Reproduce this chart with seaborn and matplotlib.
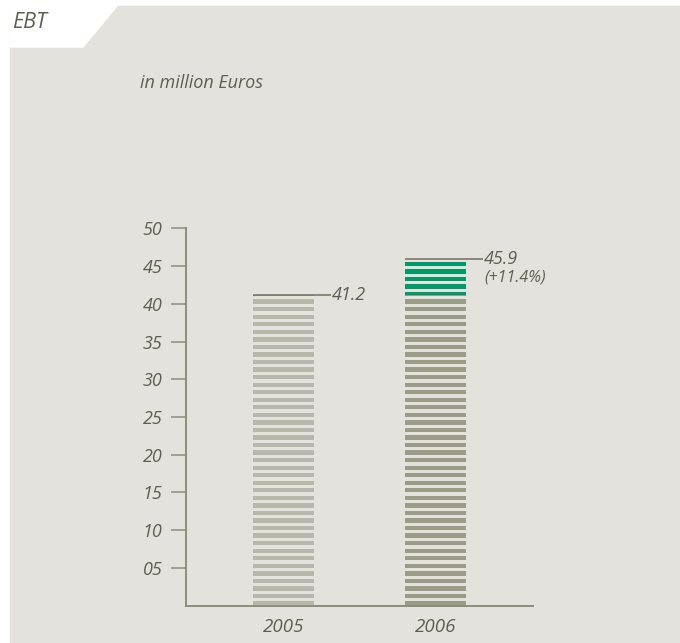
import numpy as np
import pandas as pd
import matplotlib
matplotlib.use("Agg")
import matplotlib.pyplot as plt
from matplotlib.patches import Polygon
import seaborn as sns

# EBT in million Euros
years = ["2005", "2006"]
ebt = [41.2, 45.9]
change_label = "(+11.4%)"
y_ticks = [5, 10, 15, 20, 25, 30, 35, 40, 45, 50]
y_tick_labels = ["05", "10", "15", "20", "25", "30", "35", "40", "45", "50"]

BG = "#e3e2dc"
TEXT = "#5f5f50"
AXIS = "#8d8d7b"
LIGHT = "#b8b8aa"
DARK = "#9b9b88"
GREEN = "#00996a"

sns.set_theme(style="white")
plt.rcParams["font.family"] = ["Open Sans", "DejaVu Sans"]

fig = plt.figure(figsize=(6.8, 6.43), dpi=100)
fig.patch.set_facecolor("white")

# panel background and title tab
fig.patches.append(plt.Rectangle((10 / 680, 0), 1, 1 - 6 / 643,
                                 transform=fig.transFigure, color=BG, zorder=-2))
tab = Polygon([(10 / 680, 1 - 6 / 643), (117 / 680, 1 - 6 / 643),
               (83 / 680, 1 - 47 / 643), (10 / 680, 1 - 47 / 643)],
              closed=True, transform=fig.transFigure, color="white", zorder=-1)
fig.patches.append(tab)
fig.text(12 / 680, 1 - 22 / 643, "EBT", fontsize=15.5, style="italic",
         color=TEXT, va="center", ha="left")
fig.text(140 / 680, 1 - 83 / 643, "in million Euros", fontsize=13,
         style="italic", color=TEXT, va="center", ha="left")

ax = fig.add_axes([186 / 680, 37.3 / 643, (533 - 186) / 680, (605.7 - 228.3) / 643])
ax.set_zorder(2)
ax.set_facecolor(BG)

df = pd.DataFrame({"year": years, "ebt": ebt})
width = 0.40

# full bars: light grey for the prior year, green for the current one
sns.barplot(data=df, x="year", y="ebt", hue="year",
            palette=[LIGHT, GREEN], width=width, legend=False,
            ax=ax, saturation=1, linewidth=0, zorder=1)
# prior-year level inside the current bar in grey
base = pd.DataFrame({"year": years, "ebt": [np.nan, ebt[0]]})
sns.barplot(data=base, x="year", y="ebt", color=DARK, width=width,
            ax=ax, saturation=1, linewidth=0, zorder=1.1)

# horizontal gaps turning the bars into stripes, one per unit
for k in range(int(np.ceil(max(ebt))) + 1):
    ax.axhspan(k + 0.57, k + 1.0, color=BG, lw=0, zorder=1.5)

ax.set_xlim(-0.641, 1.641)
ax.set_ylim(0, 50)

# value leaders and labels
for i, v in enumerate(ebt):
    ax.plot([i - width / 2, i + width / 2 + 0.11], [v, v], color="#707060",
            lw=1.1, zorder=3, solid_capstyle="butt")
    ax.text(i + width / 2 + 0.12, v, f"{v:.1f}", fontsize=13, style="italic",
            color=TEXT, ha="left", va="center", zorder=3)
ax.text(1 + width / 2 + 0.12, ebt[1] - 2.4, change_label, fontsize=11.5,
        style="italic", color=TEXT, ha="left", va="center", zorder=3)

sns.despine(ax=ax, top=True, right=True)
for side in ("left", "bottom"):
    ax.spines[side].set_color(AXIS)
    ax.spines[side].set_linewidth(1.4)
    ax.spines[side].set_zorder(4)

ax.set_yticks(y_ticks)
ax.set_yticklabels(y_tick_labels, fontsize=13, style="italic", color=TEXT)
ax.tick_params(axis="y", direction="out", length=11, width=1.1, color=AXIS,
               pad=6, left=True)
ax.tick_params(axis="x", length=0, pad=9)
for lab in ax.get_xticklabels():
    lab.set_fontsize(13.5)
    lab.set_style("italic")
    lab.set_color(TEXT)
ax.set_xlabel("")
ax.set_ylabel("")
ax.grid(False)

fig.savefig("out.png", dpi=100, facecolor=fig.get_facecolor())
